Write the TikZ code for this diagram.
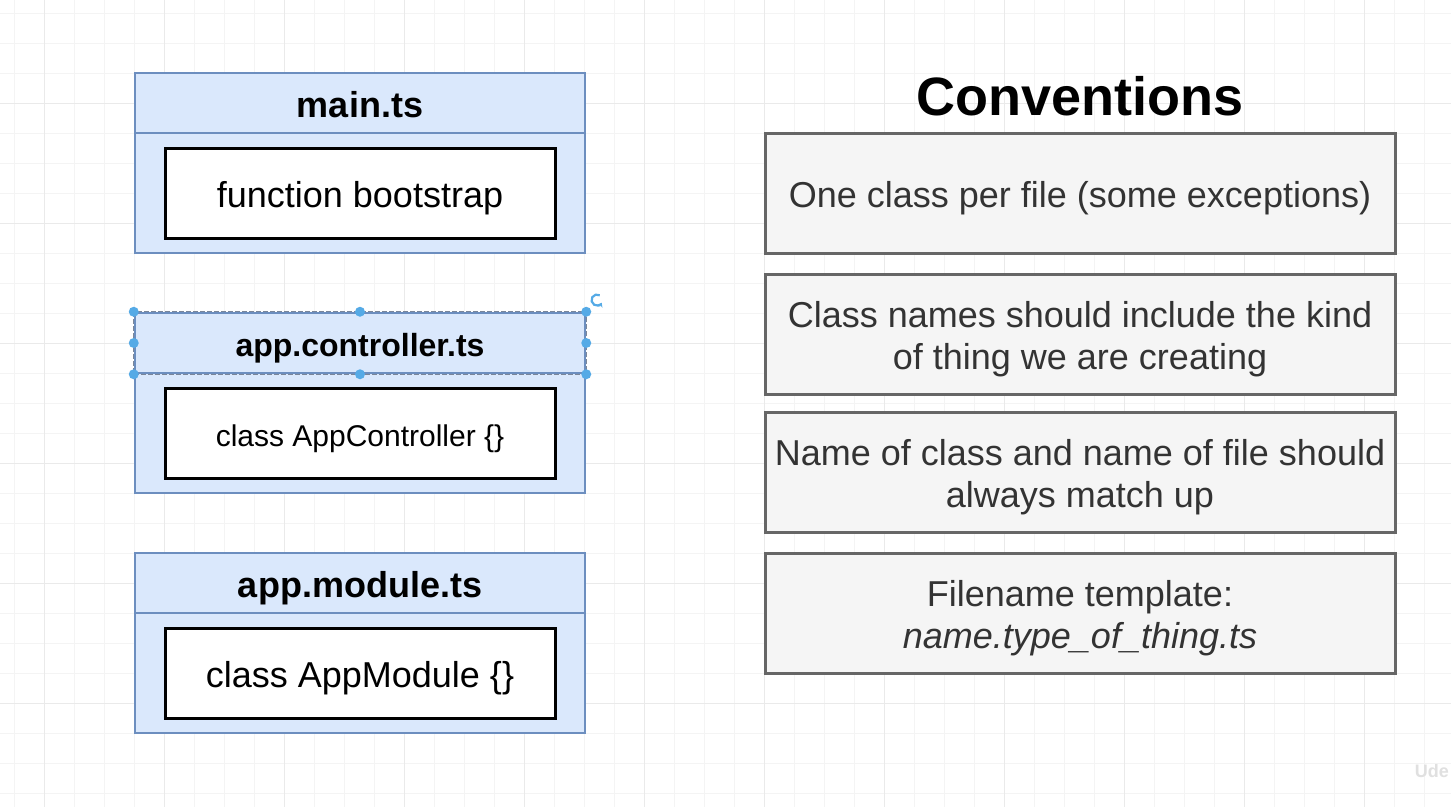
\documentclass[tikz,border=0pt]{standalone}
\usepackage{fontspec}
\setmainfont{Liberation Sans}
\usetikzlibrary{arrows.meta}
\definecolor{bluefill}{HTML}{DAE8FC}
\definecolor{bluestroke}{HTML}{6C8EBF}
\definecolor{grayfill}{HTML}{F5F5F5}
\definecolor{graystroke}{HTML}{666666}
\definecolor{txtgray}{HTML}{333333}
\definecolor{gridminor}{HTML}{F4F4F4}
\definecolor{gridmajor}{HTML}{EAEAEA}
\definecolor{handle}{RGB}{85,170,230}
\definecolor{seldash}{HTML}{7A8699}
\begin{document}
\begin{tikzpicture}[x=1pt,y=-1pt,
  filebox/.style={draw=bluestroke, fill=bluefill, line width=2.5pt, minimum width=450pt, minimum height=180pt, inner sep=0pt},
  header/.style={draw=bluestroke, fill=bluefill, line width=2.5pt, minimum width=450pt, minimum height=60pt, inner sep=0pt, text height=28pt, text depth=0pt, font=\fontsize{36}{43}\selectfont\bfseries},
  codebox/.style={draw=black, fill=white, line width=3pt, minimum width=390pt, minimum height=90pt, inner sep=0pt, text height=28pt, text depth=0pt, font=\fontsize{36}{43}\selectfont},
  convbox/.style={draw=graystroke, fill=grayfill, line width=3pt, minimum width=630pt, minimum height=120pt, inner sep=0pt, text=txtgray, text height=29pt, text depth=0pt, font=\fontsize{36}{43}\selectfont},
  convtxt/.style={inner sep=0pt, text=txtgray, anchor=base, font=\fontsize{36}{43}\selectfont},
  hdl/.style={circle, fill=handle, inner sep=0pt, minimum size=10pt}
]
\useasboundingbox (0,0) rectangle (1451,807);
\fill[white] (0,0) rectangle (1451,807);
% grid
\foreach \i in {0,...,47} \draw[gridminor, line width=1pt] ({14+30*\i},0) -- ({14+30*\i},807);
\foreach \i in {0,...,26} \draw[gridminor, line width=1pt] (0,{13+30*\i}) -- (1451,{13+30*\i});
\foreach \i in {0,...,11} \draw[gridmajor, line width=1pt] ({44+120*\i},0) -- ({44+120*\i},807);
\foreach \i in {0,...,5} \draw[gridmajor, line width=1pt] (0,{103+120*\i}) -- (1451,{103+120*\i});

% left file boxes
\node[filebox] (f1) at (360,163) {};
\node[header] (h1) at (360,103) {main.ts};
\node[codebox] (c1) at (360,193.5) {function bootstrap};

\node[filebox] (f2) at (360,403) {};
\node[header, font=\fontsize{32}{38}\selectfont\bfseries, text height=27pt] (h2) at (360,343) {app.controller.ts};
\node[codebox, font=\fontsize{30}{36}\selectfont, text height=26pt] (c2) at (360,433.5) {class AppController \{\}};

\node[filebox] (f3) at (360,643) {};
\node[header] (h3) at (360,583) {app.module.ts};
\node[codebox] (c3) at (360,673.5) {class AppModule \{\}};

% selection of h2
\draw[seldash, line width=1.3pt, dash pattern=on 5pt off 2pt] (h2.north west) rectangle (h2.south east);
\foreach \a in {north west,north,north east,west,east,south west,south,south east}
  \node[hdl] at (h2.\a) {};
\coordinate (rot) at (597,300);
\draw[handle, line width=2.2pt, -{Stealth[length=4pt,width=6pt]}] ([shift={(-60:5.5)}]rot) arc[start angle=-60, end angle=-330, radius=5.5];

% conventions
\node[font=\fontsize{54}{60}\selectfont\bfseries] (title) at (1080,96.5) {Conventions};
\node[convbox] (k1) at (1080,193) {One class per file (some exceptions)};
\node[convbox] (k2) at (1080,334) {};
\node[convtxt] (k2a) at ([yshift=6.3pt]k2.center) {Class names should include the kind};
\node[convtxt] (k2b) at ([yshift=-35.3pt]k2.center) {of thing we are creating};
\node[convbox] (k3) at (1080,472) {};
\node[convtxt] (k3a) at ([yshift=6.3pt]k3.center) {Name of class and name of file should};
\node[convtxt] (k3b) at ([yshift=-35.3pt]k3.center) {always match up};
\node[convbox] (k4) at (1080,613) {};
\node[convtxt] (k4a) at ([yshift=6.3pt]k4.center) {Filename template:};
\node[convtxt, font=\fontsize{36}{43}\selectfont\itshape] (k4b) at ([yshift=-35.3pt]k4.center) {name.type\_of\_thing.ts};

% watermark
\node[text=black!12, font=\fontsize{18}{18}\selectfont\bfseries, anchor=east, inner sep=0pt] (wm) at (1449,771) {Ude};
\end{tikzpicture}
\end{document}
